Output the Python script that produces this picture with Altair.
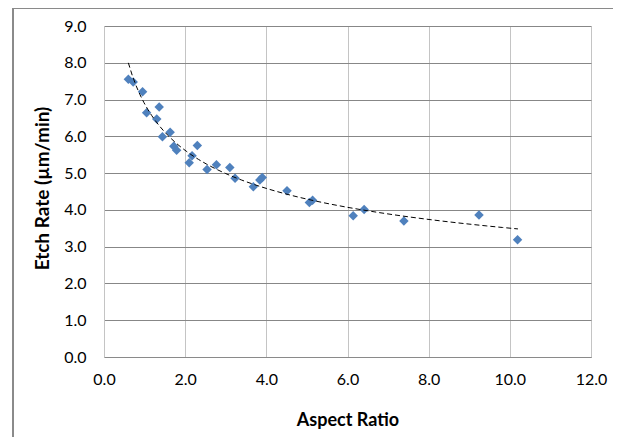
import altair as alt
import pandas as pd

aspect_ratio = [0.60, 0.72, 0.95, 1.05, 1.36, 1.30, 1.63, 1.44, 1.72, 1.79,
                2.30, 2.17, 2.10, 2.54, 2.77, 3.10, 3.23, 3.68, 3.84, 3.90,
                4.51, 5.06, 5.14, 6.14, 6.41, 7.39, 9.24, 10.19]
etch_rate = [7.55, 7.48, 7.21, 6.64, 6.80, 6.47, 6.11, 5.99, 5.73, 5.62,
             5.75, 5.47, 5.28, 5.10, 5.23, 5.15, 4.86, 4.63, 4.81, 4.88,
             4.52, 4.20, 4.26, 3.84, 4.01, 3.70, 3.86, 3.19]
x_ticks = [0, 2, 4, 6, 8, 10, 12]
y_ticks = [0, 1, 2, 3, 4, 5, 6, 7, 8, 9]

df = pd.DataFrame({"ar": aspect_ratio, "er": etch_rate})

FONT = "Lato"

x_enc = alt.X("ar:Q", scale=alt.Scale(domain=[0, 12], nice=False),
              axis=alt.Axis(values=x_ticks, format=".1f", title="Aspect Ratio",
                            grid=True, gridColor="#c4c4c4", ticks=False,
                            domainColor="#8a8a8a", labelPadding=14,
                            labelFlush=False, labelOverlap=False,
                            titleFontSize=18,
                            titleX=243.5, titleY=63, titleBaseline="middle"))
y_enc = alt.Y("er:Q", scale=alt.Scale(domain=[0, 9], nice=False),
              axis=alt.Axis(values=y_ticks, format=".1f", title="Etch Rate (µm/min)",
                            grid=True, gridColor="#878787", ticks=False,
                            domainColor="#c4c4c4", labelPadding=18,
                            labelFlush=False, labelOverlap=False,
                            titleFontSize=19,
                            titleX=-62, titleY=162, titleAngle=-90,
                            titleBaseline="middle", titleAlign="center"))

frame = alt.Chart(df).mark_rect(fill=None, stroke="#8a8a8a", strokeWidth=1).encode(
    x=alt.value(-91), x2=alt.value(516), y=alt.value(-18), y2=alt.value(430))

points = alt.Chart(df).mark_point(shape="diamond", filled=True, size=90,
                                  color="#4F81BD", opacity=1).encode(x=x_enc, y=y_enc)

trend = alt.Chart(df).transform_regression(
    "ar", "er", method="pow", extent=[0.6, 10.2]
).mark_line(color="black", strokeWidth=1, strokeDash=[5, 3]).encode(
    x=x_enc, y=y_enc)

chart = alt.layer(frame, points, trend).properties(
    width=487, height=331,
    autosize=alt.AutoSizeParams(type="none"),
    padding={"left": 96, "top": 18, "right": 22, "bottom": 80},
).configure_view(stroke=None).configure_axis(
    labelFont=FONT, labelFontSize=16, labelColor="#000000",
    titleFont=FONT, titleFontWeight="bold", titleColor="#000000",
    gridWidth=1, domainWidth=1
)

chart.save("out.html", embed_options={"renderer": "svg", "actions": False})
